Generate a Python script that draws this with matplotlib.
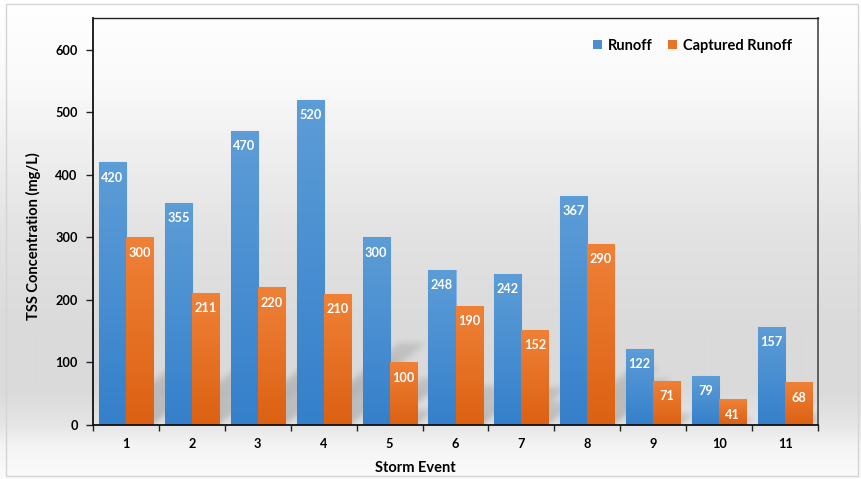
import numpy as np
import matplotlib
matplotlib.use("Agg")
import matplotlib.pyplot as plt
from matplotlib.patches import Patch, Rectangle
from matplotlib.colors import LinearSegmentedColormap

plt.rcParams['font.family'] = ['Lato', 'DejaVu Sans']
plt.rcParams['font.weight'] = 'bold'

# ---- data ----
events = [1, 2, 3, 4, 5, 6, 7, 8, 9, 10, 11]
runoff = [420, 355, 470, 520, 300, 248, 242, 367, 122, 79, 157]
captured = [300, 211, 220, 210, 100, 190, 152, 290, 71, 41, 68]
yticks = [0, 100, 200, 300, 400, 500, 600]

W, H = 861, 479
fig = plt.figure(figsize=(W / 100, H / 100), dpi=100)

# ---- soft vertical background gradient over the whole figure ----
bg_ax = fig.add_axes([0, 0, 1, 1], zorder=-10)
stops_px = [0, 80, 230, 330, 390, 425, 445, 479]
stops_lv = [255, 250, 227, 218, 218, 230, 244, 251]
rows = np.interp(np.arange(H), stops_px, stops_lv) / 255.0
grad = np.repeat(rows[:, None], 4, axis=1)
bg_ax.imshow(np.dstack([grad, grad, grad]), aspect='auto', extent=[0, 1, 0, 1],
             interpolation='bilinear')
bg_ax.set_axis_off()
bg_ax.add_patch(Rectangle((6 / W, 1 - 476 / H), (858 - 6) / W, (476 - 4) / H,
                          transform=bg_ax.transAxes, fill=False,
                          edgecolor='#d4d4d4', lw=1.0))

# ---- main axes ----
left, right = 93 / W, 818 / W
bottom, top = 1 - 425 / H, 1 - 18 / H
ax = fig.add_axes([left, bottom, right - left, top - bottom])
ax.set_facecolor('none')
YMAX = 651

x = np.array(events, dtype=float)
bw = 0.41
blue_cmap = LinearSegmentedColormap.from_list('b', ['#3580cb', '#5d9dd7'])
orange_cmap = LinearSegmentedColormap.from_list('o', ['#dc6113', '#ef8137'])

# ---- diagonal perspective shadow cast by each bar ----
ax_w_px = int(round((right - left) * W))
ax_h_px = int(round((top - bottom) * H))
px_per_x = ax_w_px / 11.0
px_per_y = ax_h_px / YMAX
shadow = np.zeros((ax_h_px, ax_w_px))
yy, xx = np.mgrid[0:ax_h_px, 0:ax_w_px]
slope = 1.25
for centers, vals in ((x - bw / 2, runoff), (x + bw / 2, captured)):
    for c, v in zip(centers, vals):
        x0 = (c - bw / 2 - 0.5) * px_per_x
        x1 = (c + bw / 2 - 0.5) * px_per_x
        hpx = 0.25 * v * px_per_y
        shifted = xx - slope * yy
        m = (shifted >= x0) & (shifted <= x1) & (yy <= hpx)
        fade = np.clip(1 - 0.45 * yy / max(hpx, 1), 0, 1)
        shadow = np.maximum(shadow, m * fade)
sig = 3.0
k = np.exp(-0.5 * (np.arange(-10, 11) / sig) ** 2)
k /= k.sum()
shadow = np.apply_along_axis(lambda r: np.convolve(r, k, mode='same'), 1, shadow)
shadow = np.apply_along_axis(lambda r: np.convolve(r, k, mode='same'), 0, shadow)
rgba = np.zeros((ax_h_px, ax_w_px, 4))
rgba[..., 3] = shadow * 0.2
ax.imshow(rgba[::-1], extent=[0.5, 11.5, 0, YMAX], aspect='auto', zorder=0.5,
          interpolation='bilinear')

# ---- gradient bars ----
def gradient_bars(xpos, vals, cmap, edge):
    bars = ax.bar(xpos, vals, width=bw, color=cmap(0.5), edgecolor=edge,
                  linewidth=0.8, zorder=2)
    g = np.linspace(0, 1, 64)[:, None]
    for b in bars:
        bx, by = b.get_x(), b.get_y()
        im = ax.imshow(g, cmap=cmap, origin='lower', aspect='auto',
                       extent=[bx, bx + b.get_width(), by, by + b.get_height()],
                       zorder=2.1, interpolation='bilinear')
        im.set_clip_path(b)
    return bars

rb = gradient_bars(x - bw / 2, runoff, blue_cmap, '#8ab8e2')
cb = gradient_bars(x + bw / 2, captured, orange_cmap, '#f2a877')
ax.set_xlim(0.5, 11.5)
ax.set_ylim(0, YMAX)

for bars, vals in ((rb, runoff), (cb, captured)):
    for b, v in zip(bars, vals):
        ax.annotate(f"{v}", (b.get_x() + b.get_width() / 2, v),
                    xytext=(0, -11), textcoords='offset points',
                    ha='center', va='center', color='white',
                    fontsize=9.2, fontweight='bold', zorder=5)

# ---- axes styling ----
ax.set_yticks(yticks)
ax.set_yticklabels([str(t) for t in yticks])
ax.set_xticks(x)
ax.set_xticklabels([str(e) for e in events])
ax.set_xticks(np.arange(0.5, 12, 1.0), minor=True)
ax.tick_params(axis='x', which='major', length=0, pad=9.5, labelsize=9.2)
ax.tick_params(axis='x', which='minor', length=4, width=1.0, color='#222222')
ax.tick_params(axis='y', length=5, width=1.0, color='#222222', pad=6, labelsize=9.2)
for lab in ax.get_xticklabels() + ax.get_yticklabels():
    lab.set_fontweight('bold')

for s in ('left', 'bottom'):
    ax.spines[s].set_color('#111111')
    ax.spines[s].set_linewidth(1.3)
ax.spines['top'].set_color('#222222')
ax.spines['top'].set_linewidth(1.0)
ax.spines['right'].set_color('#555555')
ax.spines['right'].set_linewidth(1.3)

ax.set_xlabel('Storm Event', fontsize=10.5, fontweight='bold')
ax.xaxis.label.set_va('center')
ax.xaxis.set_label_coords((415 - 93) / 725, (425 - 468) / 407)
ax.set_ylabel('TSS Concentration (mg/L)', fontsize=10.5, fontweight='bold')
ax.yaxis.label.set_va('center')
ax.yaxis.set_label_coords((33.5 - 93) / 725, (425 - 236) / 407)

handles = [Patch(facecolor='#4a8fd2', edgecolor='none', label='Runoff'),
           Patch(facecolor='#e8742a', edgecolor='none', label='Captured Runoff')]
ax.legend(handles=handles, loc='center right', bbox_to_anchor=(0.982, 0.932),
          ncol=2, frameon=False, handlelength=0.62, handleheight=0.62,
          handletextpad=0.4, columnspacing=1.05,
          prop={'weight': 'bold', 'size': 10.5})

fig.savefig('out.png', dpi=100)
